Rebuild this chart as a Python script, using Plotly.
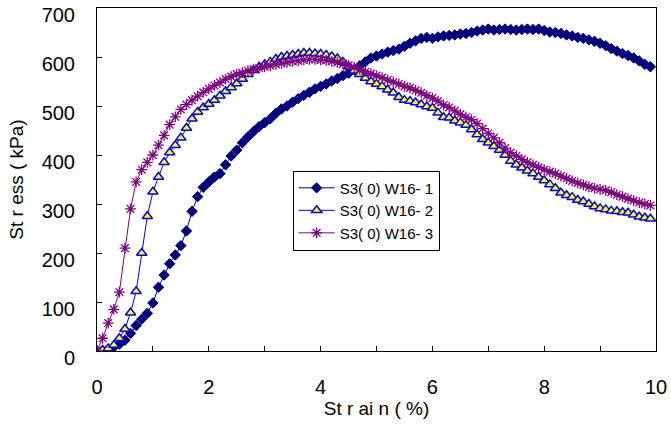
import plotly.graph_objects as go

strain = [0.0, 0.1, 0.2, 0.3, 0.4, 0.5, 0.6, 0.7, 0.8, 0.9,
          1.0, 1.1, 1.2, 1.3, 1.4, 1.5, 1.6, 1.7, 1.8, 1.9,
          2.0, 2.1, 2.2, 2.3, 2.4, 2.5, 2.6, 2.7, 2.8, 2.9,
          3.0, 3.1, 3.2, 3.3, 3.4, 3.5, 3.6, 3.7, 3.8, 3.9,
          4.0, 4.1, 4.2, 4.3, 4.4, 4.5, 4.6, 4.7, 4.8, 4.9,
          5.0, 5.1, 5.2, 5.3, 5.4, 5.5, 5.6, 5.7, 5.8, 5.9,
          6.0, 6.1, 6.2, 6.3, 6.4, 6.5, 6.6, 6.7, 6.8, 6.9,
          7.0, 7.1, 7.2, 7.3, 7.4, 7.5, 7.6, 7.7, 7.8, 7.9,
          8.0, 8.1, 8.2, 8.3, 8.4, 8.5, 8.6, 8.7, 8.8, 8.9,
          9.0, 9.1, 9.2, 9.3, 9.4, 9.5, 9.6, 9.7, 9.8, 9.9]

stress_1 = [0, 1, 3, 8, 14, 22, 36, 52, 65, 77,
            98, 130, 155, 178, 196, 215, 245, 285, 315, 334,
            345, 355, 362, 380, 398, 410, 425, 437, 448, 458,
            466, 474, 485, 494, 500, 508, 515, 522, 528, 535,
            540, 545, 551, 556, 562, 567, 574, 582, 590, 598,
            602, 606, 610, 613, 616, 622, 628, 633, 638, 640,
            638, 641, 643, 644, 645, 647, 648, 650, 653, 655,
            657, 655, 656, 657, 656, 655, 656, 657, 656, 657,
            654, 651, 650, 648, 645, 643, 640, 638, 635, 632,
            628, 623, 617, 612, 607, 603, 598, 592, 585, 580]

stress_2 = [0, 2, 5, 12, 26, 45, 78, 122, 200, 275,
            325, 355, 385, 405, 420, 435, 455, 474, 488, 497,
            504, 512, 521, 530, 538, 546, 555, 565, 573, 580,
            585, 590, 596, 600, 602, 604, 606, 608, 608, 607,
            606, 604, 601, 597, 590, 580, 572, 565, 557, 550,
            545, 540, 533, 527, 518, 512, 510, 507, 503, 499,
            496, 486, 477, 476, 470, 466, 461, 452, 442, 432,
            425, 418, 410, 400, 388, 380, 374, 368, 362, 355,
            348, 340, 332, 323, 318, 314, 308, 305, 300, 295,
            291, 289, 286, 285, 283, 282, 278, 274, 272, 270]

stress_3 = [0, 26, 57, 85, 120, 210, 290, 345, 370, 385,
            400, 420, 440, 462, 478, 493, 503, 512, 520, 528,
            535, 542, 548, 555, 560, 565, 568, 572, 575, 577,
            580, 582, 585, 587, 589, 591, 592, 594, 595, 595,
            594, 593, 591, 589, 586, 583, 579, 575, 570, 566,
            562, 558, 553, 549, 545, 540, 537, 532, 527, 521,
            516, 510, 502, 497, 490, 483, 477, 472, 464, 454,
            444, 435, 425, 414, 405, 398, 391, 385, 380, 375,
            370, 366, 362, 357, 352, 347, 343, 339, 335, 332,
            330, 328, 324, 319, 315, 311, 307, 303, 300, 297]

names = ["S3( 0) W16- 1", "S3( 0) W16- 2", "S3( 0) W16- 3"]

FONT = "Liberation Sans, Arial, sans-serif"

fig = go.Figure()
fig.add_trace(go.Scatter(
    x=strain, y=stress_1, name=names[0], mode="lines+markers",
    line=dict(color="#000080", width=1),
    marker=dict(symbol="diamond", size=8, color="#000080",
                line=dict(color="#000080", width=1))))
fig.add_trace(go.Scatter(
    x=strain, y=stress_2, name=names[1], mode="lines+markers",
    line=dict(color="#0000FF", width=1),
    marker=dict(symbol="triangle-up", size=9, color="#FFFF00",
                line=dict(color="#0000FF", width=1.5))))
fig.add_trace(go.Scatter(
    x=strain, y=stress_3, name=names[2], mode="lines+markers",
    line=dict(color="#800080", width=1),
    marker=dict(symbol="asterisk-open", size=9, color="#800080",
                line=dict(color="#800080", width=1.3))))

fig.update_layout(
    width=671, height=438,
    margin=dict(l=97, r=15, t=8, b=87),
    paper_bgcolor="white", plot_bgcolor="white",
    font=dict(family=FONT, size=20, color="black"),
    showlegend=True,
    legend=dict(x=0.35, y=0.526, xanchor="left", yanchor="top",
                bgcolor="white", bordercolor="black", borderwidth=1,
                font=dict(family=FONT, size=15, color="black"),
                itemwidth=36, tracegroupgap=0),
    xaxis=dict(range=[0, 10], dtick=2, tick0=0, ticks="inside", ticklen=5,
               tickcolor="black", showline=True, linecolor="black",
               linewidth=1, mirror=True, showgrid=False, zeroline=False,
               ticklabelstandoff=18, ticklabeloverflow="allow",
               automargin=False,
               minor=dict(dtick=1, ticks="inside", ticklen=5,
                          tickcolor="black", showgrid=False),
               title=dict(text="St r ai n ( %)", standoff=3,
                          font=dict(family=FONT, size=19))),
    yaxis=dict(range=[0, 700], dtick=100,
               ticks="inside", ticklen=5,
               tickcolor="black", showline=True, linecolor="black",
               linewidth=1, mirror=True, showgrid=False, zeroline=False,
               ticklabelstandoff=17, ticklabelshift=7,
               ticklabeloverflow="allow", automargin=False,
               title=dict(text="St r ess ( kPa)", standoff=12,
                          font=dict(family=FONT, size=19))),
)

fig.write_html("out.html", config={"displayModeBar": False},
               post_script="document.body.style.margin='0px';")
